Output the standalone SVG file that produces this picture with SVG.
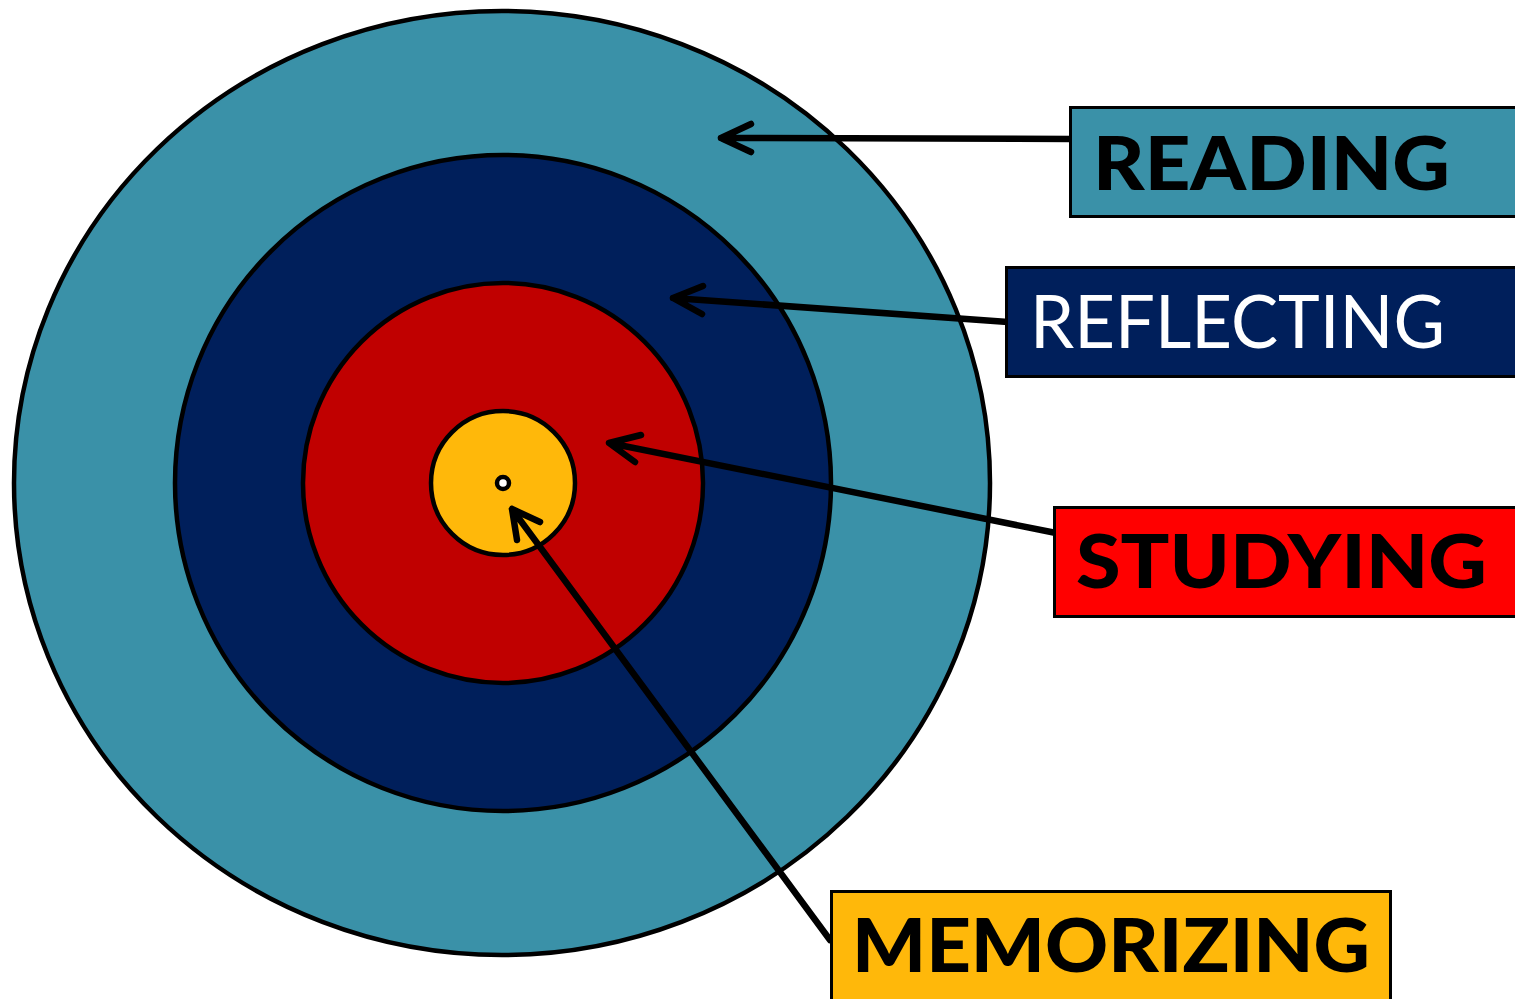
<svg xmlns="http://www.w3.org/2000/svg" width="1515" height="999" viewBox="0 0 1515 999">
<style>
.ring{stroke:#000;stroke-width:4.5}
.box{stroke:#000;stroke-width:3}
.lbl{font-family:Lato,"Noto Sans",sans-serif;font-size:74px;font-weight:900;fill:#000}
.conn{fill:none;stroke:#000;stroke-width:6.5;stroke-linecap:round;stroke-linejoin:round}
</style>
<rect width="1515" height="999" fill="#fff"/>
<g id="target">
<ellipse class="ring" cx="502" cy="483" rx="488" ry="472" fill="#3A91A8"/>
<circle class="ring" cx="503" cy="483" r="328" fill="#001F5B"/>
<circle class="ring" cx="503" cy="483" r="200" fill="#C00000"/>
<circle class="ring" cx="503" cy="483" r="72" fill="#FFB80A"/>
<circle cx="503" cy="483" r="6" fill="#fff" stroke="#000" stroke-width="4.5"/>
</g>
<g id="connectors">
<path class="conn" d="M1072,139 L721,138 M751,124 L721,138 L751,152"/>
<path class="conn" d="M1008,322 L673,298 M703,286 L673,298 L702,314"/>
<path class="conn" d="M1056,533 L609,443 M641,435 L609,443 L635,462"/>
<path class="conn" d="M830,940 L512,509 M540,522 L512,509 L517,540"/>
</g>
<g id="reading">
<rect class="box" x="1070.5" y="107.5" width="450" height="109" fill="#3A91A8"/>
<text class="lbl" x="1093" y="190" textLength="357" lengthAdjust="spacingAndGlyphs">READING</text>
</g>
<g id="reflecting">
<rect class="box" x="1006.5" y="267.5" width="515" height="109" fill="#001F5B"/>
<text class="lbl" x="1030" y="348" style="fill:#fff;font-weight:normal" textLength="415" lengthAdjust="spacingAndGlyphs">REFLECTING</text>
</g>
<g id="studying">
<rect class="box" x="1054.5" y="507.5" width="465" height="109" fill="#FF0000"/>
<text class="lbl" x="1076" y="588" textLength="411" lengthAdjust="spacingAndGlyphs">STUDYING</text>
</g>
<g id="memorizing">
<rect class="box" x="831.5" y="891.5" width="559" height="115" fill="#FFB80A"/>
<text class="lbl" x="852" y="972" textLength="518" lengthAdjust="spacingAndGlyphs">MEMORIZING</text>
</g>
</svg>
